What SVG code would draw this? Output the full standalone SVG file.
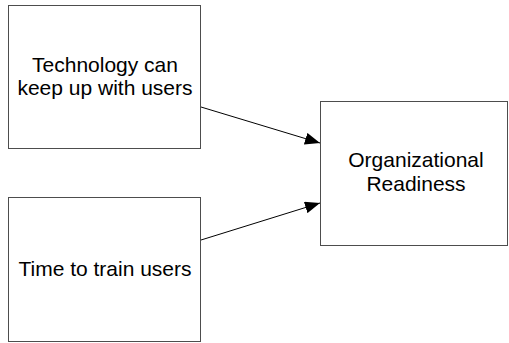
<svg xmlns="http://www.w3.org/2000/svg" width="509" height="343" viewBox="0 0 509 343">
  <style>
    .box { fill: #ffffff; stroke: #4d4d4d; stroke-width: 1; }
    .label { font-family: "Liberation Sans", Arial, sans-serif; font-size: 21px; fill: #000000; text-anchor: middle; }
    .edge { stroke: #000000; stroke-width: 1; fill: none; marker-end: url(#arrow); }
  </style>
  <defs>
    <marker id="arrow" markerUnits="userSpaceOnUse" markerWidth="16" markerHeight="12" refX="15" refY="6" orient="auto">
      <path d="M0,0 L15,6 L0,12 Z" fill="#000000"/>
    </marker>
  </defs>
  <rect width="509" height="343" fill="#ffffff"/>

  <g id="tech">
    <rect class="box" x="8.5" y="5.5" width="192" height="143"/>
    <text class="label" x="105" y="72">Technology can</text>
    <text class="label" x="105" y="95">keep up with users</text>
  </g>

  <g id="train">
    <rect class="box" x="8.5" y="197.5" width="192" height="144"/>
    <text class="label" x="105" y="276">Time to train users</text>
  </g>

  <g id="readiness">
    <rect class="box" x="320.5" y="101.5" width="187" height="144"/>
    <text class="label" x="416" y="167">Organizational</text>
    <text class="label" x="416" y="191">Readiness</text>
  </g>

  <g id="connectors">
    <line class="edge" x1="201" y1="107" x2="320" y2="143"/>
    <line class="edge" x1="201" y1="240" x2="320" y2="203"/>
  </g>
</svg>
